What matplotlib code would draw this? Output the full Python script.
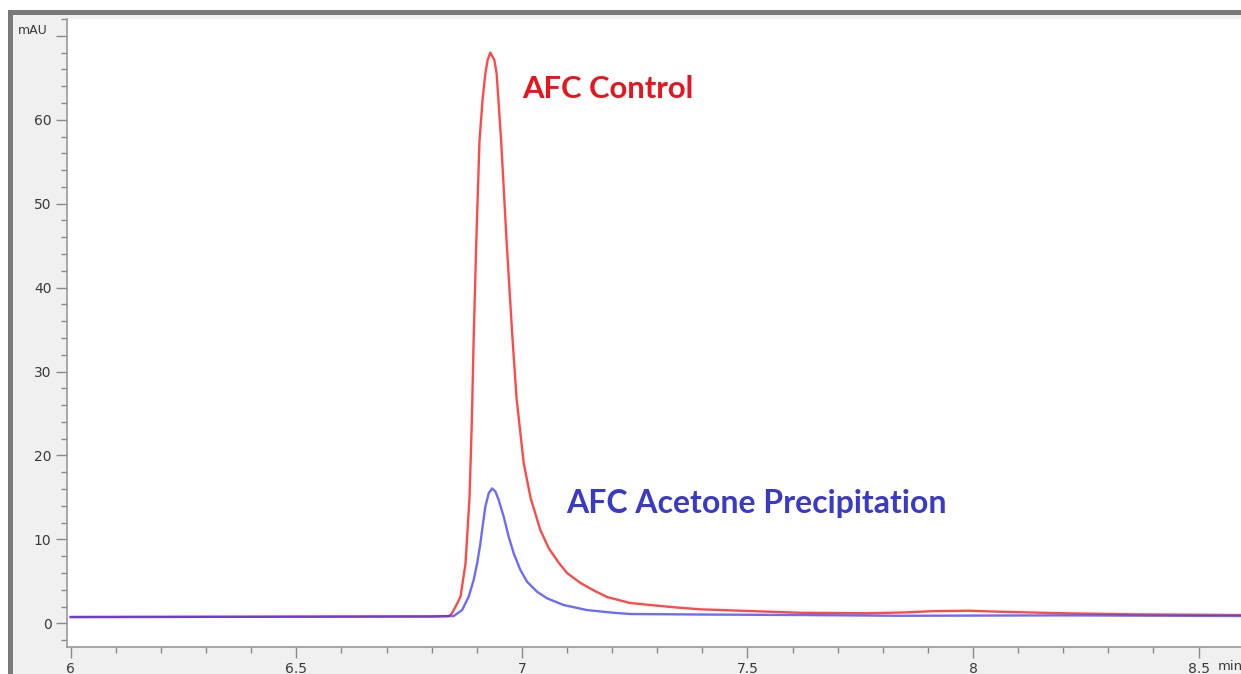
import matplotlib
matplotlib.use('Agg')
import matplotlib.pyplot as plt
from matplotlib.patches import Rectangle
from matplotlib.ticker import MultipleLocator

# retention time (min) / absorbance (mAU)
control_t = [6.00, 6.40, 6.80, 6.838, 6.845, 6.855, 6.864, 6.875, 6.884, 6.889,
             6.893, 6.899, 6.906, 6.913, 6.919, 6.924, 6.930, 6.939, 6.944,
             6.954, 6.966, 6.978, 6.988, 7.004, 7.019, 7.041, 7.060, 7.082,
             7.100, 7.130, 7.160, 7.189, 7.240, 7.285, 7.340, 7.395, 7.506,
             7.617, 7.765, 7.850, 7.911, 7.990, 8.060, 8.208, 8.354, 8.594]
control_y = [0.75, 0.78, 0.82, 0.86, 1.19, 2.2, 3.2, 7.1, 15.1, 24.0,
             33.7, 45.6, 57.5, 62.5, 65.5, 67.1, 68.0, 67.1, 65.5,
             57.5, 45.6, 34.9, 26.9, 19.1, 15.0, 11.1, 8.9, 7.2,
             6.0, 4.8, 3.9, 3.13, 2.42, 2.18, 1.90, 1.67, 1.46,
             1.26, 1.20, 1.30, 1.45, 1.50, 1.38, 1.19, 1.07, 0.99]

acetone_t = [6.00, 6.40, 6.80, 6.849, 6.8675, 6.882, 6.893, 6.9008, 6.908, 6.9118,
             6.919, 6.9265, 6.934, 6.9413, 6.9486, 6.9597, 6.9708, 6.9819, 6.9967,
             7.0115, 7.0337, 7.0558, 7.0926, 7.1444, 7.2033, 7.2403, 7.395, 7.617,
             7.838, 8.208, 8.594]
acetone_y = [0.75, 0.78, 0.82, 0.87, 1.58, 3.17, 5.15, 7.14, 9.52, 11.1,
             13.9, 15.5, 16.07, 15.7, 14.7, 12.7, 10.3, 8.33, 6.35,
             4.95, 3.76, 2.98, 2.18, 1.58, 1.26, 1.11, 1.05, 0.99,
             0.90, 0.95, 0.87]

x_ticks = [6, 6.5, 7, 7.5, 8, 8.5]
x_labels = ['6', '6.5', '7', '7.5', '8', '8.5']
y_ticks = [0, 10, 20, 30, 40, 50, 60, 70]
y_labels = ['0', '10', '20', '30', '40', '50', '60', '']

W, H = 1241, 674
fig = plt.figure(figsize=(W / 100, H / 100), dpi=100)
fig.patch.set_facecolor('white')

# window background + dark frame bars (screenshot look)
fig.patches.append(Rectangle((8 / W, 0), 1, 1 - 10 / H, transform=fig.transFigure,
                             facecolor='#f0f0f0', edgecolor='none', zorder=-3))
fig.patches.append(Rectangle((8 / W, 1 - 15 / H), 1, 5 / H, transform=fig.transFigure,
                             facecolor='#7a7a7a', edgecolor='none', zorder=-2))
fig.patches.append(Rectangle((8 / W, 0), 5 / W, 1 - 10 / H, transform=fig.transFigure,
                             facecolor='#7a7a7a', edgecolor='none', zorder=-2))

ax = fig.add_axes([66.7 / W, (H - 647) / H, 1 - 66.7 / W, (647 - 19) / H])
ax.set_facecolor('white')

ax.plot(control_t, control_y, color='#ff2a2a', lw=1.7, alpha=0.85,
        solid_joinstyle='round')
ax.plot(acetone_t, acetone_y, color='#3a3aff', lw=1.7, alpha=0.75,
        solid_joinstyle='round')

ax.set_xlim(5.991, 8.594)
ax.set_ylim(-2.82, 72)

ax.xaxis.set_minor_locator(MultipleLocator(0.1))
ax.yaxis.set_minor_locator(MultipleLocator(2))

ax.set_xticks(x_ticks)
ax.set_xticklabels(x_labels)
ax.set_yticks(y_ticks)
ax.set_yticklabels(y_labels)

ax.tick_params(which='major', length=8, width=1, color='#8a8a8a',
               labelsize=10, labelcolor='#3a3a3a', pad=3)
ax.tick_params(which='minor', length=4, width=1, color='#8a8a8a')

for side in ['top', 'right']:
    ax.spines[side].set_visible(False)
for side in ['left', 'bottom']:
    ax.spines[side].set_color('#9a9a9a')
    ax.spines[side].set_linewidth(1.2)

fig.text(18 / W, 1 - 30 / H, 'mAU', fontsize=9, color='#3a3a3a', va='center', ha='left')
fig.text(1218 / W, 1 - 667 / H, 'min', fontsize=9.5, color='#3a3a3a', va='center', ha='left')

ax.text(7.001, 63.7, 'AFC Control', color='#e8141e', fontsize=22.3,
        fontweight='bold', family='Lato', va='center', ha='left')
ax.text(7.099, 14.3, 'AFC Acetone Precipitation', color='#3a3ac8', fontsize=23,
        fontweight='bold', family='Lato', va='center', ha='left')

fig.savefig('out.png', dpi=100)
